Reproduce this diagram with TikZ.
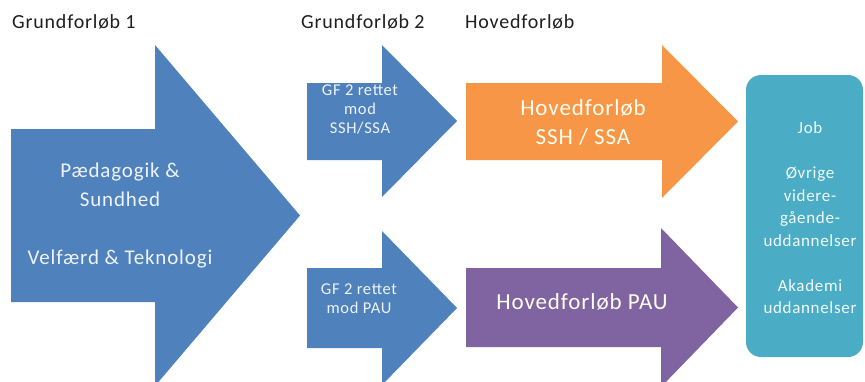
\documentclass[tikz,border=0pt]{standalone}
\usepackage{fontspec}
\setmainfont{Carlito}[LetterSpace=4]
\definecolor{gfblue}{HTML}{4F81BD}
\definecolor{hforange}{HTML}{F79646}
\definecolor{hfpurple}{HTML}{8064A2}
\definecolor{hfteal}{HTML}{4BACC6}
\definecolor{lighttxt}{HTML}{EEF3FA}
\tikzset{
  headtxt/.style={anchor=west, inner sep=0pt, text=black!88, font=\fontsize{20}{24}\selectfont},
  bigtxt/.style={align=center, inner sep=0pt, text=lighttxt, font=\fontsize{21}{29}\selectfont},
  gftxt/.style={align=center, inner sep=0pt, text=lighttxt, font=\fontsize{16.5}{19}\selectfont},
  hftxt/.style={align=center, inner sep=0pt, text=white!95!yellow, font=\fontsize{23}{29}\selectfont},
  tealtxt/.style={align=center, inner sep=0pt, text=white!95!cyan, font=\fontsize{17}{22.5}\selectfont},
}
\begin{document}
\begin{tikzpicture}[x=1pt,y=-1pt]
\useasboundingbox (0,0) rectangle (865,381);
\clip (0,0) rectangle (865,381);
\fill[white] (0,0) rectangle (865,381);
% big arrow
\fill[gfblue] (11,129) -- (155,129) -- (155,45) -- (300,215.5) -- (155,386) -- (155,302) -- (11,302) -- cycle;
% GF2 arrows
\fill[gfblue] (307,83) -- (382,83) -- (382,45) -- (457,121) -- (382,197) -- (382,160) -- (307,160) -- cycle;
\fill[gfblue] (307,268) -- (382,268) -- (382,231) -- (457,308) -- (382,385) -- (382,348) -- (307,348) -- cycle;
% Hovedforloeb arrows
\fill[hforange] (466,83) -- (662,83) -- (662,45) -- (738,121.5) -- (662,198) -- (662,160) -- (466,160) -- cycle;
\fill[hfpurple] (466,268) -- (661,268) -- (661,228) -- (738,307.5) -- (661,387) -- (661,347) -- (466,347) -- cycle;
% result box
\fill[hfteal, rounded corners=15pt] (746,75) rectangle (863,357);
% headers
\node[headtxt] (h1) at (12,22) {Grundforløb 1};
\node[headtxt] (h2) at (301,22) {Grundforløb 2};
\node[headtxt] (h3) at (465,22) {Hovedforløb};
% texts
\node[bigtxt] (gf1) at (120,216) {Pædagogik \&\\Sundhed\\[29pt]Velfærd \& Teknologi};
\node[gftxt] (gf2a) at (360,109) {GF 2 rettet\\mod\\SSH/SSA};
\node[gftxt] (gf2b) at (359,299) {GF 2 rettet\\mod PAU};
\node[hftxt] (hfa) at (583,122) {Hovedforløb\\SSH / SSA};
\node[hftxt] (hfb) at (582,302) {Hovedforløb PAU};
\node[tealtxt] (res) at (810,218) {Job\\[22.5pt]Øvrige\\videre-\\gående-\\uddannelser\\[22.5pt]Akademi\\uddannelser};
\end{tikzpicture}
\end{document}
